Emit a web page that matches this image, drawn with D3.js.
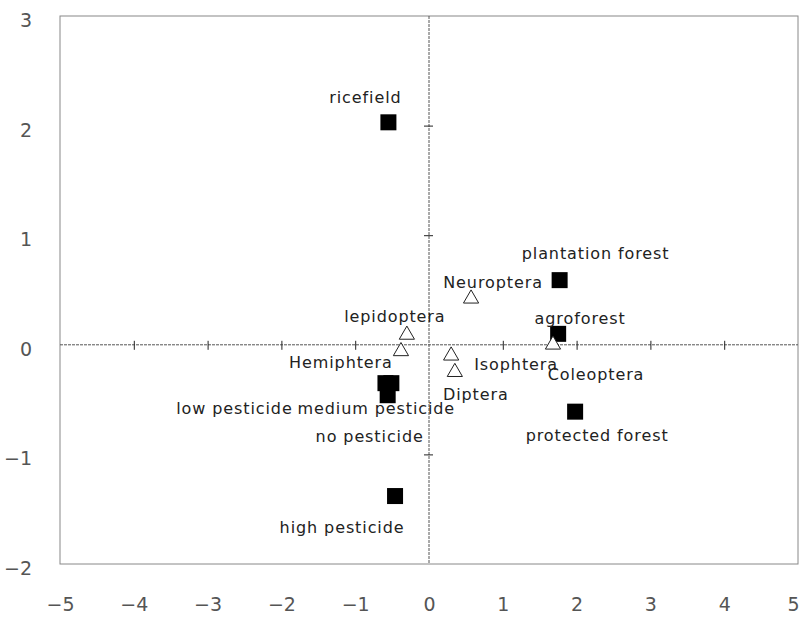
<!DOCTYPE html>
<html>
<head>
<meta charset="utf-8">
<script src="https://cdn.jsdelivr.net/npm/d3@7"></script>
<style>
  body { margin: 0; background: #fff; }
  text { font-family: "DejaVu Sans", sans-serif; }
</style>
</head>
<body>
<div id="chart"></div>
<script>
// sites (filled squares)
var siteNames = ["ricefield", "plantation forest", "agroforest", "protected forest",
  "low pesticide", "medium pesticide", "no pesticide", "high pesticide"]
var siteX = [-0.55, 1.77, 1.75, 1.98, -0.59, -0.51, -0.56, -0.46]
var siteY = [2.03, 0.59, 0.10, -0.61, -0.35, -0.35, -0.46, -1.38]

// insect orders (open triangles)
var orderNames = ["Neuroptera", "lepidoptera", "Hemiphtera", "Isophtera", "Diptera", "Coleoptera"]
var orderX = [0.57, -0.30, -0.38, 0.30, 0.35, 1.68]
var orderY = [0.43, 0.10, -0.05, -0.09, -0.24, 0.01]

var xTicks = [-5, -4, -3, -2, -1, 0, 1, 2, 3, 4, 5]
var yTicks = [-2, -1, 0, 1, 2, 3]

// label offsets in pixels from the mark (layout only)
var labelOff = {
  "ricefield": [-23, -25], "plantation forest": [36, -27], "agroforest": [22, -15],
  "protected forest": [22, 24], "low pesticide": [-151, 25], "medium pesticide": [-15, 25],
  "no pesticide": [-18, 41], "high pesticide": [-53, 31],
  "Neuroptera": [22, -15], "lepidoptera": [-12, -17], "Hemiphtera": [-60, 12],
  "Isophtera": [65, 10], "Diptera": [21, 23], "Coleoptera": [43, 31]
}

var W = 801, H = 617
var margin = {top: 16, right: 3, bottom: 53, left: 60}

var svg = d3.select("#chart").append("svg")
  .attr("width", W).attr("height", H)

var x = d3.scaleLinear().domain([-5, 5]).range([margin.left, W - margin.right])
var y = d3.scaleLinear().domain([-2, 3]).range([H - margin.bottom, margin.top])

// frame
svg.append("rect")
  .attr("x", x(-5)).attr("y", y(3))
  .attr("width", x(5) - x(-5)).attr("height", y(-2) - y(3))
  .attr("fill", "none").attr("stroke", "#888").attr("stroke-width", 1)

// tick labels
var xLab = svg.append("g")
  .attr("transform", "translate(0," + (y(-2) + 30) + ")")
  .call(d3.axisBottom(x).tickValues(xTicks).tickSize(0).tickFormat(d3.format("d")))
xLab.select(".domain").remove()

var yLab = svg.append("g")
  .attr("transform", "translate(" + (x(-5) - 25) + ",0)")
  .call(d3.axisLeft(y).tickValues(yTicks).tickSize(0).tickFormat(d3.format("d")))
yLab.select(".domain").remove()

svg.selectAll(".tick text")
  .attr("font-size", 19).attr("fill", "#555")
  .attr("font-family", "DejaVu Sans, sans-serif")
  .text(function(d) { return d < 0 ? "\u2212" + (-d) : d })
yLab.selectAll(".tick text").attr("dy", "0.55em")
// last x label sits at the window edge
xLab.selectAll(".tick text").filter(function(d) { return d == 5 }).attr("dx", -5)

// axes through the origin
svg.append("line")
  .attr("x1", x(-5)).attr("x2", x(5)).attr("y1", y(0)).attr("y2", y(0))
  .attr("stroke", "#555").attr("stroke-dasharray", "3,1")
svg.append("line")
  .attr("x1", x(0)).attr("x2", x(0)).attr("y1", y(3)).attr("y2", y(-2))
  .attr("stroke", "#555").attr("stroke-dasharray", "3,1")

var hTicks = svg.append("g")
  .attr("transform", "translate(0," + (y(0) - 4) + ")")
  .call(d3.axisBottom(x).tickValues(xTicks.filter(function(d) { return d != 0 && Math.abs(d) < 5 }))
    .tickSize(9).tickFormat(""))
hTicks.select(".domain").remove()
hTicks.selectAll("line").attr("stroke", "#222")

var vTicks = svg.append("g")
  .attr("transform", "translate(" + (x(0) + 4) + ",0)")
  .call(d3.axisLeft(y).tickValues(yTicks.filter(function(d) { return d != 0 && d != 3 && d != -2 }))
    .tickSize(9).tickFormat(""))
vTicks.select(".domain").remove()
vTicks.selectAll("line").attr("stroke", "#222")

// data
var sites = siteNames.map(function(n, i) { return {name: n, x: siteX[i], y: siteY[i]} })
var orders = orderNames.map(function(n, i) { return {name: n, x: orderX[i], y: orderY[i]} })

var sq = 16
svg.selectAll(".site").data(sites).enter().append("rect")
  .attr("class", "site")
  .attr("x", function(d) { return x(d.x) - sq / 2 })
  .attr("y", function(d) { return y(d.y) - sq / 2 })
  .attr("width", sq).attr("height", sq)
  .attr("fill", "#000")

var tri = d3.symbol().type(d3.symbolTriangle).size(100)
svg.selectAll(".order").data(orders).enter().append("path")
  .attr("class", "order")
  .attr("d", tri)
  .attr("transform", function(d) { return "translate(" + x(d.x) + "," + (y(d.y) + 1) + ")" })
  .attr("fill", "#fff").attr("stroke", "#222").attr("stroke-width", 1)

// labels
svg.selectAll(".lbl").data(sites.concat(orders)).enter().append("text")
  .attr("class", "lbl")
  .attr("x", function(d) { return x(d.x) + labelOff[d.name][0] })
  .attr("y", function(d) { return y(d.y) + labelOff[d.name][1] })
  .attr("dy", "0.35em")
  .attr("text-anchor", "middle")
  .attr("font-size", 16)
  .attr("letter-spacing", 0.9)
  .attr("fill", "#222")
  .text(function(d) { return d.name })
</script>
</body>
</html>
